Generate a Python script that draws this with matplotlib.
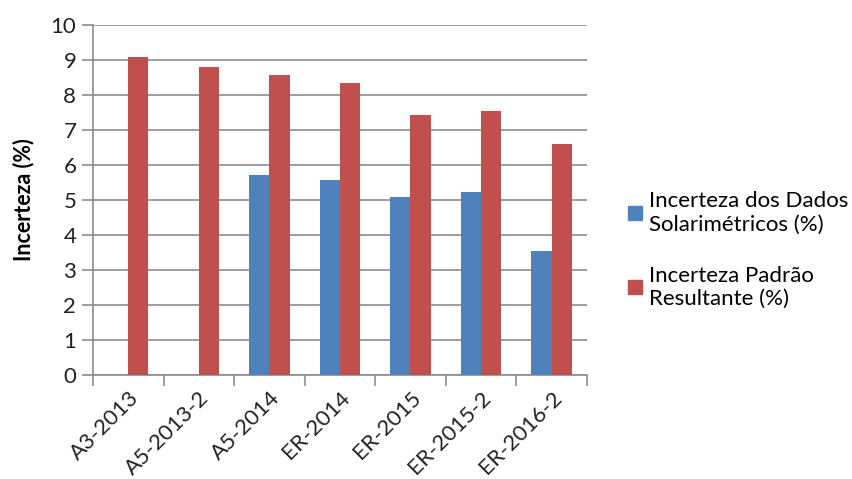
import numpy as np
import matplotlib.pyplot as plt
from matplotlib.patches import Patch

plt.rcParams['font.family'] = ['Lato', 'DejaVu Sans']

categories = ['A3-2013', 'A5-2013-2', 'A5-2014', 'ER-2014', 'ER-2015', 'ER-2015-2', 'ER-2016-2']
dados_solar = [np.nan, np.nan, 5.72, 5.58, 5.09, 5.24, 3.55]
padrao_result = [9.08, 8.81, 8.56, 8.33, 7.44, 7.53, 6.61]
labels = ['Incerteza dos Dados\nSolarimétricos (%)', 'Incerteza Padrão\nResultante (%)']

c_blue = '#4F81BD'
c_red = '#C0504D'
c_grid = '#8C8C8C'

fig = plt.figure(figsize=(8.53, 4.79), dpi=100)
ax = fig.add_axes([0.109, 0.217, 0.579, 0.731])

x = np.arange(len(categories))
w = 1 / 3.5
ax.bar(x - w / 2, dados_solar, w, color=c_blue, zorder=3)
ax.bar(x + w / 2, padrao_result, w, color=c_red, zorder=3)

ax.set_xlim(-0.5, len(categories) - 0.5)
ax.set_ylim(0, 10)
ax.set_yticks(range(0, 11))
ax.yaxis.grid(True, color=c_grid, linewidth=1.2, zorder=0)
ax.tick_params(axis='y', length=8, width=1.2, labelsize=16, pad=4, labelcolor='#222222', color=c_grid)

# category labels at centres, tick marks at the boundaries
ax.set_xticks(x)
ax.set_xticklabels(categories, rotation=45, ha='right', rotation_mode='anchor', fontsize=16, color='#222222')
ax.tick_params(axis='x', which='major', length=0, pad=9)
ax.set_xticks(np.arange(-0.5, len(categories)), minor=True)
ax.tick_params(axis='x', which='minor', length=8, width=1.2, color=c_grid)

for s in ['top', 'right']:
    ax.spines[s].set_visible(False)
for s in ['left', 'bottom']:
    ax.spines[s].set_color(c_grid)
    ax.spines[s].set_linewidth(1.2)

ax.set_ylabel('Incerteza (%)', fontsize=15.5, fontweight='bold', labelpad=12)

handles = [Patch(color=c_blue), Patch(color=c_red)]
fig.legend(handles, labels, loc='center left', bbox_to_anchor=(0.713, 0.478), frameon=False,
           fontsize=16, handlelength=0.6, handleheight=0.6, handletextpad=0.35,
           labelspacing=1.4)

fig.savefig('out.png', dpi=100)
